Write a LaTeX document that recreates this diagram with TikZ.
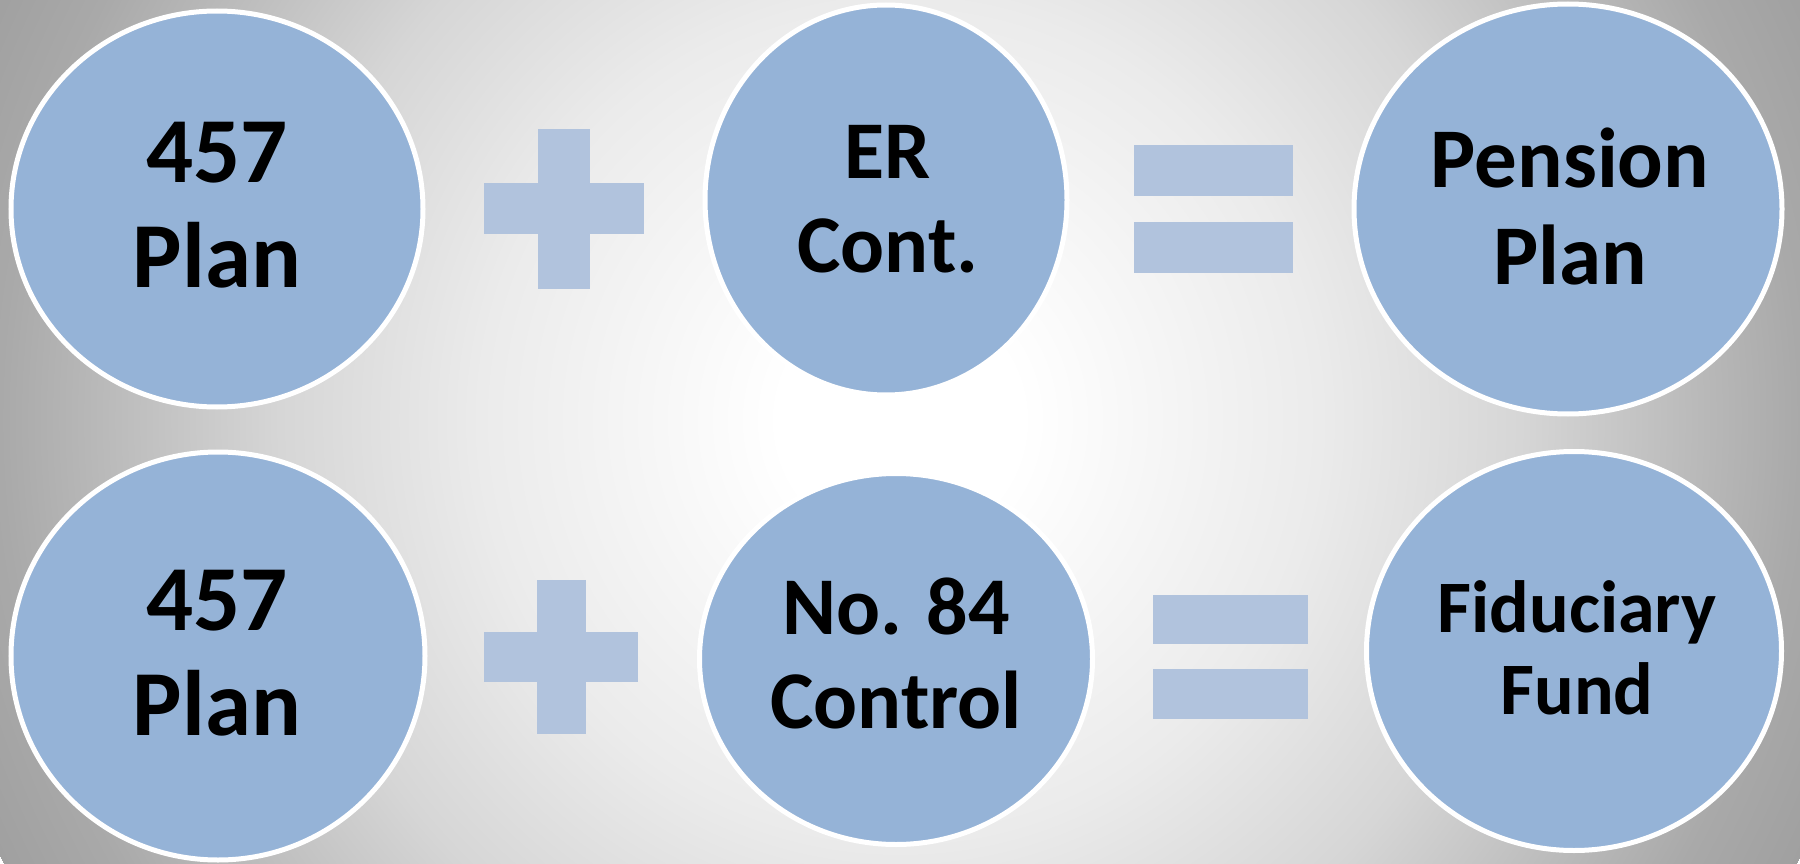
\documentclass[tikz,border=0pt]{standalone}
\usepackage{fontspec}
\setmainfont{Carlito}
\usetikzlibrary{shapes.geometric}

\definecolor{bubble}{HTML}{95B3D7}
\definecolor{opsign}{HTML}{B1C3DD}
\definecolor{bgA}{HTML}{EBEBEB}
\definecolor{bgB}{HTML}{D6D6D6}
\definecolor{bgC}{HTML}{A9A9A9}
\definecolor{bgD}{HTML}{A0A0A0}

% soft white centre fading to grey towards the edges
\pgfdeclareradialshading{bgshade}{\pgfpoint{0bp}{0bp}}{%
  color(0bp)=(white); color(6bp)=(white); color(21bp)=(bgA);
  color(31bp)=(bgB); color(45bp)=(bgC); color(50bp)=(bgD)}

\tikzset{
  bubble/.style={ellipse, draw=white, line width=5pt, fill=bubble,
                 inner sep=0pt, outer sep=0pt},
  label/.style 2 args={align=center, inner sep=0pt, text=black,
                 font=\fontsize{#1}{#2}\selectfont\bfseries},
  opsign/.style={fill=opsign, draw=none}
}

\begin{document}
\begin{tikzpicture}[x=1pt, y=-1pt]
  \useasboundingbox (0,0) rectangle (1800,864);

  % background: radial shading of radius 1000pt around (900,420)
  \begin{scope}
    \clip (0,0) rectangle (1800,864);
    \pgftransformshift{\pgfpointxy{900}{420}}
    \pgftransformscale{19.93}
    \pgflowlevelsynccm
    \pgfuseshading{bgshade}
  \end{scope}

  % top row
  \node[bubble, minimum width=412pt, minimum height=396pt] (e1) at (217,209) {};
  \node[bubble, minimum width=362pt, minimum height=390pt] (e2) at (886,200) {};
  \node[bubble, minimum width=428pt, minimum height=410pt] (e3) at (1568,209) {};

  % bottom row
  \node[bubble, minimum width=414pt, minimum height=408pt] (e4) at (218,656) {};
  \node[bubble, minimum width=393pt, minimum height=371pt] (e5) at (896,659) {};
  \node[bubble, minimum width=415pt, minimum height=399pt] (e6) at (1574,651) {};

  % labels
  \node[label={93}{105}] (t1) at (217,205.5) {457\\Plan};
  \node[label={82}{94}] (t2) at (888,199.5) {ER\\Cont.};
  \node[label={85}{97}] (t3) at (1570,206) {Pension\\Plan};
  \node[label={93}{105}] (t4) at (217,653) {457\\Plan};
  \node[label={82}{94}] (t5) at (896,653.5) {No. 84\\Control};
  \node[label={74}{82}] (t6) at (1577,647.5) {Fiduciary\\Fund};

  % plus signs
  \fill[opsign] (538,129) rectangle (590,289);
  \fill[opsign] (484,183) rectangle (644,234);
  \fill[opsign] (537,580) rectangle (586,734);
  \fill[opsign] (484,632) rectangle (638,682);

  % equals signs
  \fill[opsign] (1134,145) rectangle (1293,196);
  \fill[opsign] (1134,222) rectangle (1293,273);
  \fill[opsign] (1153,595) rectangle (1308,644);
  \fill[opsign] (1153,669) rectangle (1308,719);
\end{tikzpicture}
\end{document}
